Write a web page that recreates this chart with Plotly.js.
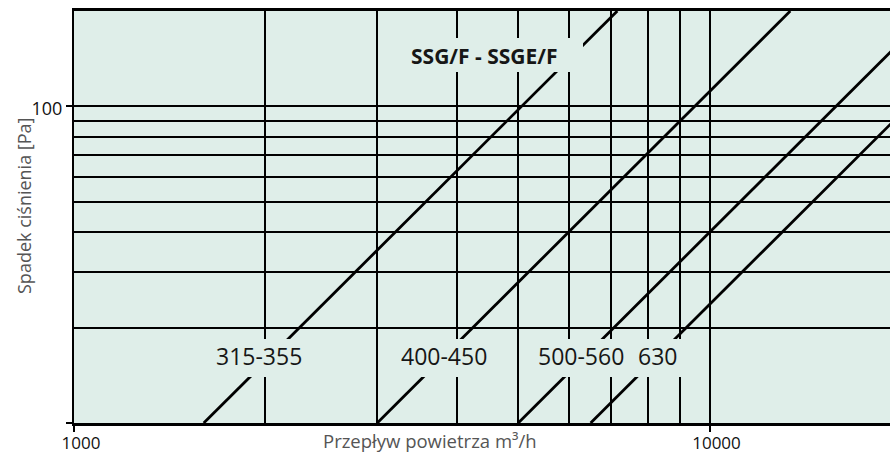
<!DOCTYPE html>
<html><head><meta charset="utf-8">
<script src="https://cdn.plot.ly/plotly-3.0.1.min.js"></script>
<style>html,body{margin:0;padding:0;background:#fff}#chart{width:890px;height:454px}</style>
</head><body><div id="chart"></div>
<script>
// ---- data (flow m3/h, pressure drop Pa) ----
const seriesNames = ['315-355', '400-450', '500-560', '630'];
const flow315 = [1600, 7160];
const dp315 = [10, 200];
const flow400 = [3000, 13400];
const dp400 = [10, 200];
const flow500 = [5000, 20000];
const dp500 = [10, 160];
const flow630 = [6500, 20000];
const dp630 = [10, 94.7];

const xTickVals = [1000, 10000];
const xTickText = ['1000', '10000'];
const xMinorVals = [2000, 3000, 4000, 5000, 6000, 7000, 8000, 9000];
const yTickVals = [10, 100];
const yTickText = ['', '100'];
const yMinorVals = [20, 30, 40, 50, 60, 70, 80, 90];

const chartLabel = 'SSG/F - SSGE/F';
const xTitle = 'Przepływ powietrza m³/h';
const yTitle = 'Spadek ciśnienia [Pa]';

// ---- styling ----
const BG = '#dfeee9';
const FONT = 'Open Sans, Noto Sans, sans-serif';
const flows = [flow315, flow400, flow500, flow630];
const dps = [dp315, dp400, dp500, dp630];

const traces = seriesNames.map((n, i) => ({
  type: 'scatter', mode: 'lines', name: n,
  x: flows[i], y: dps[i],
  line: {color: '#000', width: 2.8},
  hoverinfo: 'skip', showlegend: false
}));

// plot area in pixels: x 74..890, y 11..423
const L = 74, R = 890, T = 11, B = 423;
const px = v => (v - L) / (R - L);
const py = v => (B - v) / (B - T);

function mask(x0, x1, y0, y1) {
  return {type: 'rect', xref: 'paper', yref: 'paper', layer: 'above',
    x0: px(x0), x1: px(x1), y0: py(y1), y1: py(y0),
    fillcolor: BG, line: {width: 0}};
}
function label(text, cx, cy, size, bold) {
  return {xref: 'paper', yref: 'paper', x: px(cx), y: py(cy),
    xanchor: 'center', yanchor: 'middle', showarrow: false,
    text: bold ? '<b>' + text + '</b>' : text,
    font: {family: FONT, size: size, color: '#161616'}};
}

const layout = {
  width: 890, height: 454,
  margin: {l: L, r: 0, t: T, b: 454 - B},
  paper_bgcolor: '#fff', plot_bgcolor: BG,
  showlegend: false,
  xaxis: {
    type: 'log', range: [3, 4.284],
    tickmode: 'array', tickvals: xTickVals, ticktext: xTickText,
    ticks: 'outside', ticklen: 6, tickwidth: 2, tickcolor: '#000',
    showgrid: true, gridcolor: '#000', gridwidth: 2,
    minor: {tickmode: 'array', tickvals: xMinorVals, showgrid: true, gridcolor: '#000', gridwidth: 2, ticks: ''},
    showline: true, linecolor: '#000', linewidth: 3, mirror: true,
    zeroline: false, ticklabelshift: 7, ticklabelstandoff: -3,
    tickfont: {family: FONT, size: 17, color: '#111'}
  },
  yaxis: {
    type: 'log', range: [1, Math.log10(200)],
    tickmode: 'array', tickvals: yTickVals, ticktext: yTickText,
    ticks: 'outside', ticklen: 6, tickwidth: 2, tickcolor: '#000',
    showgrid: true, gridcolor: '#000', gridwidth: 2,
    minor: {tickmode: 'array', tickvals: yMinorVals, showgrid: true, gridcolor: '#000', gridwidth: 2, ticks: ''},
    showline: true, linecolor: '#000', linewidth: 2,
    zeroline: false, ticklabelshift: 2,
    tickfont: {family: FONT, size: 18, color: '#111'}
  },
  shapes: [
    mask(404, 583, 38, 72),
    mask(210, 306, 339, 377),
    mask(392, 492, 339, 377),
    mask(525, 687, 339, 377)
  ],
  annotations: [
    label(chartLabel, 484.5, 56, 21, true),
    label(seriesNames[0], 258.5, 356, 23, false),
    label(seriesNames[1], 444, 356, 23, false),
    label(seriesNames[2], 580.8, 356, 23, false),
    label(seriesNames[3], 657.3, 356, 23, false),
    {xref: 'paper', yref: 'paper', x: px(430), y: py(440.5), xanchor: 'center', yanchor: 'middle',
     showarrow: false, text: xTitle, font: {family: FONT, size: 18.5, color: '#555'}},
    {xref: 'paper', yref: 'paper', x: px(24), y: py(206), xanchor: 'center', yanchor: 'middle',
     showarrow: false, textangle: -90, text: yTitle, font: {family: FONT, size: 18, color: '#555'}}
  ]
};

Plotly.newPlot('chart', traces, layout, {displayModeBar: false, staticPlot: true});
</script>
</body></html>
